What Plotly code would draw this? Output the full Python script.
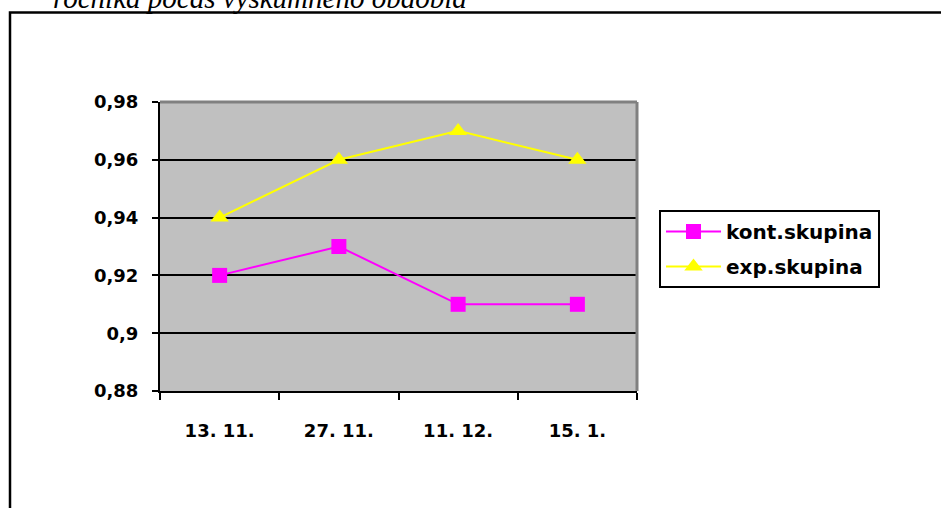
import plotly.graph_objects as go

# Measurement dates and group averages
dates = ["13. 11.", "27. 11.", "11. 12.", "15. 1."]
kont_skupina = [0.92, 0.93, 0.91, 0.91]
exp_skupina = [0.94, 0.96, 0.97, 0.96]

y_ticks = [0.88, 0.90, 0.92, 0.94, 0.96, 0.98]
y_tick_labels = ["0,88", "0,9", "0,92", "0,94", "0,96", "0,98"]

W, H = 941, 508
L, R, T, B = 160, 637, 102, 391   # plot area in pixels


def px_x(x):
    return (x - L) / (R - L)


def px_y(y):
    return (B - y) / (B - T)


fig = go.Figure()
fig.add_trace(go.Scatter(
    x=dates, y=kont_skupina, name="kont.skupina", mode="lines+markers",
    line=dict(color="#FF00FF", width=2),
    marker=dict(symbol="square", size=15, color="#FF00FF"),
    legendgroup="a",
))
fig.add_trace(go.Scatter(
    x=dates, y=exp_skupina, name="exp.skupina", mode="lines+markers",
    line=dict(color="#FFFF00", width=2),
    marker=dict(symbol="triangle-up", size=16, color="#FFFF00"),
    legendgroup="b",
))

tick_font = dict(family="DejaVu Sans", size=18, color="black", weight="bold")

fig.update_layout(
    width=W, height=H,
    margin=dict(l=L, r=W - R, t=T, b=H - B),
    paper_bgcolor="white",
    plot_bgcolor="#C0C0C0",
    showlegend=True,
    legend=dict(
        x=px_x(659), y=px_y(210), xanchor="left", yanchor="top",
        bgcolor="white", bordercolor="black", borderwidth=2,
        font=dict(family="DejaVu Sans", size=20, color="black", weight="bold"),
        tracegroupgap=6, traceorder="grouped", itemwidth=55,
    ),
    xaxis=dict(
        type="category", range=[-0.5, 3.5],
        showgrid=False, zeroline=False,
        showline=True, linecolor="black", linewidth=2,
        ticks="outside", ticklen=7, tickwidth=2, tickcolor="black",
        tickson="boundaries", ticklabelstandoff=22,
        tickfont=tick_font,
    ),
    yaxis=dict(
        range=[0.88, 0.98], tickvals=y_ticks, ticktext=y_tick_labels,
        showgrid=True, gridcolor="black", gridwidth=2, zeroline=False,
        showline=True, linecolor="black", linewidth=2,
        ticks="outside", ticklen=6, tickwidth=2, tickcolor="black",
        ticklabelstandoff=10,
        tickfont=tick_font,
    ),
)

# Gray top/right border of the plot area
fig.add_shape(type="line", xref="paper", yref="paper", x0=0, x1=1, y0=1, y1=1,
              line=dict(color="#808080", width=3), layer="above")
fig.add_shape(type="line", xref="paper", yref="paper", x0=1, x1=1, y0=0, y1=1,
              line=dict(color="#808080", width=3), layer="above")

# Outer frame around the chart object
fig.add_shape(type="rect", xref="paper", yref="paper",
              x0=px_x(10), x1=px_x(1100), y0=px_y(700), y1=px_y(12.5),
              line=dict(color="black", width=2.5), fillcolor="rgba(0,0,0,0)")

# Caption text running above the frame
fig.add_annotation(
    xref="paper", yref="paper", x=px_x(51), y=px_y(-1.5),
    xanchor="left", yanchor="middle", showarrow=False,
    text="<i>ročníka počas výskumného obdobia</i>",
    font=dict(family="Liberation Serif, Times New Roman", size=29, color="black"),
)

fig.write_html("out.html")
